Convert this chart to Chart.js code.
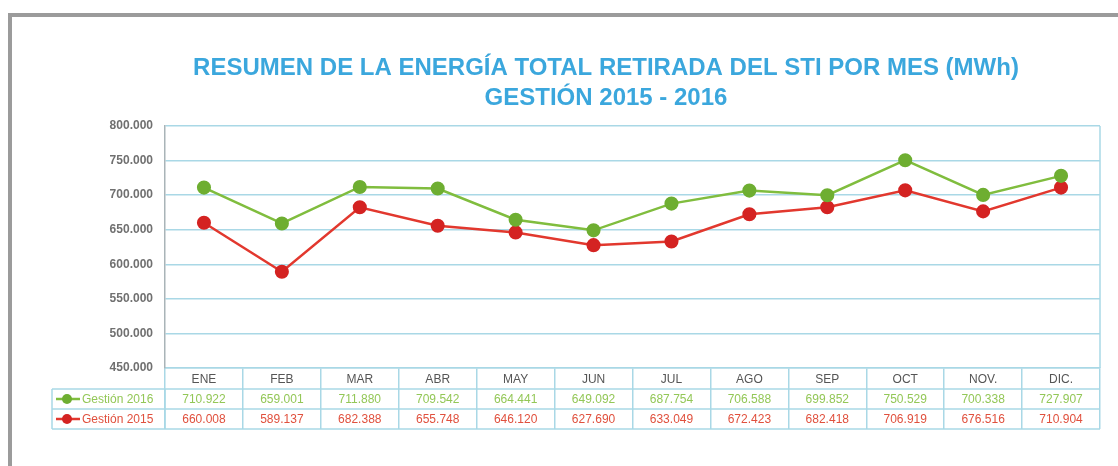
<!DOCTYPE html>
<html>
<head>
<meta charset="utf-8">
<script src="https://cdn.jsdelivr.net/npm/chart.js@4.4.1/dist/chart.umd.min.js"></script>
<style>
  html, body { margin: 0; padding: 0; background: #fff; }
  #wrap { position: relative; width: 1118px; height: 466px; overflow: hidden; }
  #frame { position: absolute; left: 8px; top: 13px; right: 0; bottom: 0;
           border-top: 4px solid #9b9b9b; border-left: 4px solid #9b9b9b; }
  canvas { position: absolute; left: 0; top: 0; }
</style>
</head>
<body>
<div id="wrap">
  <div id="frame"></div>
  <canvas id="c" width="1118" height="466"></canvas>
</div>
<script>
const titleLines = ["RESUMEN DE LA ENERGÍA TOTAL RETIRADA DEL STI POR MES (MWh)", "GESTIÓN 2015 - 2016"];
const months = ["ENE", "FEB", "MAR", "ABR", "MAY", "JUN", "JUL", "AGO", "SEP", "OCT", "NOV.", "DIC."];
const gestion2016 = [710922, 659001, 711880, 709542, 664441, 649092, 687754, 706588, 699852, 750529, 700338, 727907];
const gestion2015 = [660008, 589137, 682388, 655748, 646120, 627690, 633049, 672423, 682418, 706919, 676516, 710904];
const seriesNames = ["Gestión 2016", "Gestión 2015"];
const yMin = 450000, yMax = 800000, yStep = 50000;

function fmt(v) { return String(v).replace(/\B(?=(\d{3})+(?!\d))/g, '.'); }

const GRID = '#a9d8e6';
const FONT = "'Liberation Sans', Arial, Helvetica, sans-serif";

const titlePlugin = {
  id: 'twoLineTitle',
  afterDraw(chart) {
    const ctx = chart.ctx;
    ctx.save();
    ctx.font = 'bold 24px ' + FONT;
    ctx.fillStyle = '#3ba7dd';
    ctx.textAlign = 'center';
    ctx.textBaseline = 'middle';
    const cx = 606;
    titleLines.forEach((t, i) => ctx.fillText(t, cx, 68 + i * 30));
    ctx.restore();
  }
};

const tablePlugin = {
  id: 'dataTable',
  afterDraw(chart) {
    const ctx = chart.ctx;
    const ca = chart.chartArea;
    const x = chart.scales.x;
    const rows = [389, 409, 429];
    const left = 52;
    ctx.save();
    ctx.strokeStyle = GRID;
    ctx.lineWidth = 1.5;
    ctx.beginPath();
    ctx.moveTo(ca.right, ca.top); ctx.lineTo(ca.right, ca.bottom);
    ctx.stroke();
    rows.forEach(y => {
      ctx.beginPath(); ctx.moveTo(left, y); ctx.lineTo(ca.right, y); ctx.stroke();
    });
    ctx.beginPath(); ctx.moveTo(left, rows[0]); ctx.lineTo(left, rows[2]); ctx.stroke();
    ctx.beginPath(); ctx.moveTo(ca.left, rows[0]); ctx.lineTo(ca.left, rows[2]); ctx.stroke();

    chart.data.datasets.forEach((ds, r) => {
      const yc = (rows[r] + rows[r + 1]) / 2;
      ctx.strokeStyle = ds.borderColor;
      ctx.lineWidth = 2.5;
      ctx.beginPath(); ctx.moveTo(56, yc); ctx.lineTo(80, yc); ctx.stroke();
      ctx.fillStyle = ds.pointBackgroundColor;
      ctx.beginPath(); ctx.arc(67, yc, 5, 0, Math.PI * 2); ctx.fill();
      ctx.font = '12px ' + FONT;
      ctx.textBaseline = 'middle';
      ctx.textAlign = 'left';
      ctx.fillStyle = ds.textColor;
      ctx.fillText(ds.label, 82, yc + 0.5);
      ctx.textAlign = 'center';
      ds.data.forEach((v, i) => {
        ctx.fillText(fmt(v), x.getPixelForValue(i), yc + 0.5);
      });
    });
    ctx.restore();
  }
};

new Chart(document.getElementById('c'), {
  type: 'line',
  data: {
    labels: months,
    datasets: [
      { label: seriesNames[0], data: gestion2016, borderColor: '#80bd3e', pointBackgroundColor: '#6eae31',
        pointBorderColor: '#6eae31', textColor: '#93c757', borderWidth: 2.5, pointRadius: 5.8, tension: 0 },
      { label: seriesNames[1], data: gestion2015, borderColor: '#e2382e', pointBackgroundColor: '#d42322',
        pointBorderColor: '#d42322', textColor: '#e0503d', borderWidth: 2.5, pointRadius: 5.8, tension: 0 }
    ]
  },
  options: {
    responsive: false,
    animation: false,
    layout: { padding: { left: 0, right: 18, top: 126, bottom: 0 } },
    plugins: {
      legend: { display: false },
      tooltip: { enabled: false },
      title: { display: false }
    },
    scales: {
      x: {
        offset: true,
        afterFit(s) { s.height = 98; },
        grid: { offset: true, drawOnChartArea: false, drawTicks: true, tickLength: 61, color: GRID, lineWidth: 1.5 },
        border: { color: GRID, width: 1.5 },
        ticks: { padding: -57, color: '#555', font: { family: FONT, size: 12 } }
      },
      y: {
        min: yMin, max: yMax,
        afterFit(s) { s.width = 165; },
        ticks: { stepSize: yStep, padding: 12, color: '#707070', font: { family: FONT, size: 12, weight: 'bold' },
                 callback: v => fmt(v) },
        grid: { color: GRID, lineWidth: 1.5, drawTicks: false },
        border: { color: '#a9b4b8', width: 1.5 }
      }
    }
  },
  plugins: [tablePlugin, titlePlugin]
});
</script>
</body>
</html>
